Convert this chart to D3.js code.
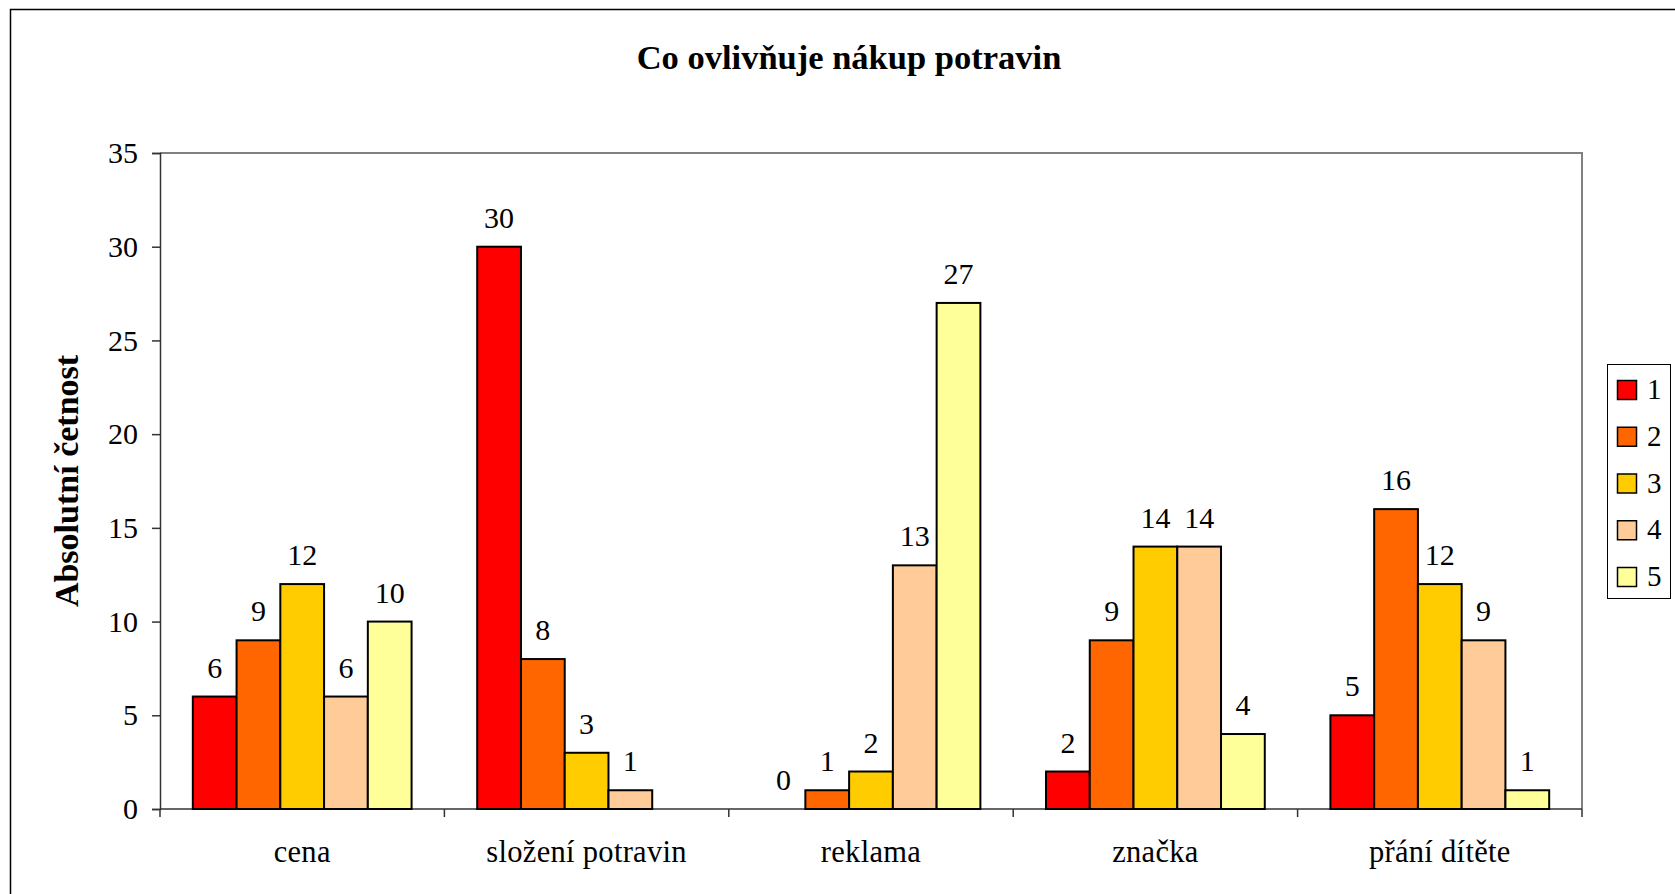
<!DOCTYPE html>
<html>
<head>
<meta charset="utf-8">
<script src="https://cdn.jsdelivr.net/npm/d3@7"></script>
<style>
  html, body { margin: 0; padding: 0; background: #fff; }
  svg { display: block; }
  text { font-family: "Liberation Serif", "Times New Roman", serif; fill: #000; }
</style>
</head>
<body>
<svg id="chart" width="1675" height="894"></svg>
<script>
// Survey answers: how strongly each factor influences food shopping (ratings 1–5)
const categories = ["cena", "složení potravin", "reklama", "značka", "přání dítěte"];
const seriesNames = ["1", "2", "3", "4", "5"];
const seriesColors = ["#FF0000", "#FF6600", "#FFCC00", "#FFCC99", "#FFFF99"];
const rating1 = [6, 30, 0, 2, 5];
const rating2 = [9, 8, 1, 9, 16];
const rating3 = [12, 3, 2, 14, 12];
const rating4 = [6, 1, 13, 14, 9];
const rating5 = [10, null, 27, 4, 1];
const yTicks = [0, 5, 10, 15, 20, 25, 30, 35];

const chartTitle = "Co ovlivňuje nákup potravin";
const yTitle = "Absolutní četnost";

const series = [rating1, rating2, rating3, rating4, rating5];
const serif = "Liberation Serif, Times New Roman, serif";

const svg = d3.select("#chart");

// Outer chart frame
svg.append("rect")
  .attr("x", 10.5).attr("y", 9.5)
  .attr("width", 1700).attr("height", 900)
  .attr("fill", "#fff").attr("stroke", "#000").attr("stroke-width", 1.5);

const plot = { left: 160, right: 1582, top: 153, bottom: 809 };

const x0 = d3.scaleBand()
  .domain(categories)
  .range([plot.left, plot.right])
  .paddingInner(0).paddingOuter(0);

const x1 = d3.scaleBand()
  .domain(seriesNames)
  .range([0, x0.bandwidth()])
  .paddingInner(0).paddingOuter(0.75);

const y = d3.scaleLinear()
  .domain([0, 35])
  .range([plot.bottom, plot.top]);

// Plot area frame (top and right edges)
svg.append("path")
  .attr("d", `M${plot.left},${plot.top}H${plot.right}V${plot.bottom}`)
  .attr("fill", "none").attr("stroke", "#808080").attr("stroke-width", 2);

// Y axis
const yAxis = d3.axisLeft(y).tickValues(yTicks).tickSize(8).tickPadding(14);
const gy = svg.append("g")
  .attr("transform", `translate(${plot.left},0)`)
  .call(yAxis);
gy.attr("font-family", serif);
gy.select(".domain").attr("stroke", "#333").attr("stroke-width", 1.5);
gy.selectAll(".tick line").attr("stroke", "#333").attr("stroke-width", 1.5);
gy.selectAll(".tick text")
  .attr("font-size", 30).attr("fill", "#000");

// X axis with ticks at category boundaries
const gx = svg.append("g")
  .attr("transform", `translate(0,${plot.bottom})`);
gx.append("line")
  .attr("x1", plot.left).attr("x2", plot.right)
  .attr("stroke", "#333").attr("stroke-width", 1.5);
const boundaries = categories.map(c => x0(c)).concat([plot.right]);
gx.selectAll("line.bt").data(boundaries).join("line")
  .attr("class", "bt")
  .attr("x1", d => d).attr("x2", d => d)
  .attr("y1", 0).attr("y2", 8)
  .attr("stroke", "#333").attr("stroke-width", 1.5);
gx.selectAll("text.cat").data(categories).join("text")
  .attr("class", "cat")
  .attr("x", d => x0(d) + x0.bandwidth() / 2)
  .attr("y", 53)
  .attr("text-anchor", "middle")
  .attr("font-size", 30.5)
  .attr("letter-spacing", 0.3)
  .text(d => d);

// Bars
const barData = [];
categories.forEach((c, ci) => {
  series.forEach((s, si) => {
    if (s[ci] !== null) barData.push({ cat: c, key: seriesNames[si], value: s[ci], color: seriesColors[si] });
  });
});

const bars = svg.append("g");
bars.selectAll("rect").data(barData.filter(d => d.value > 0)).join("rect")
  .attr("x", d => x0(d.cat) + x1(d.key))
  .attr("y", d => y(d.value))
  .attr("width", x1.bandwidth())
  .attr("height", d => y(0) - y(d.value))
  .attr("fill", d => d.color)
  .attr("stroke", "#000").attr("stroke-width", 2);

// Value labels
bars.selectAll("text").data(barData).join("text")
  .attr("x", d => x0(d.cat) + x1(d.key) + x1.bandwidth() / 2)
  .attr("y", d => y(d.value) - 19)
  .attr("text-anchor", "middle")
  .attr("font-size", 30)
  .text(d => d.value);

// Title
svg.append("text")
  .attr("x", 849).attr("y", 69)
  .attr("text-anchor", "middle")
  .attr("font-size", 34.5).attr("font-weight", "bold")
  .text(chartTitle);

// Y axis title
svg.append("text")
  .attr("transform", `translate(78,481) rotate(-90)`)
  .attr("text-anchor", "middle")
  .attr("font-size", 34).attr("font-weight", "bold")
  .text(yTitle);

// Legend
const legend = svg.append("g");
legend.append("rect")
  .attr("x", 1607.5).attr("y", 364.5)
  .attr("width", 63).attr("height", 234)
  .attr("fill", "#fff").attr("stroke", "#000").attr("stroke-width", 1);
const ly = d3.scalePoint().domain(seriesNames).range([390, 577]);
const items = legend.selectAll("g.item").data(seriesNames).join("g")
  .attr("class", "item")
  .attr("transform", d => `translate(0,${ly(d)})`);
items.append("rect")
  .attr("x", 1617.5).attr("y", -9.5)
  .attr("width", 19).attr("height", 19)
  .attr("fill", (d, i) => seriesColors[i])
  .attr("stroke", "#000").attr("stroke-width", 1.5);
items.append("text")
  .attr("x", 1647).attr("y", 9)
  .attr("font-size", 29)
  .text(d => d);
</script>
</body>
</html>
